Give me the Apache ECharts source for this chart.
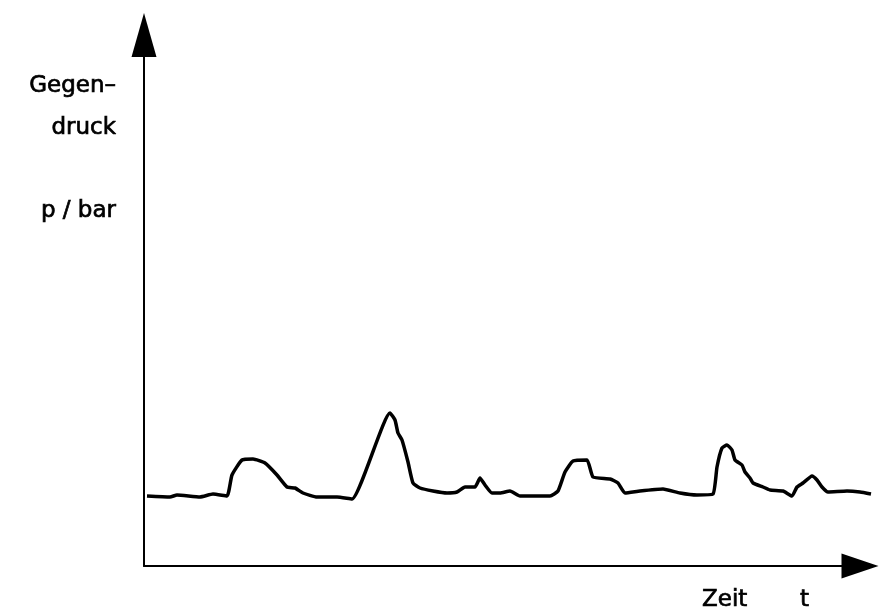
<!DOCTYPE html>
<html>
<head>
<meta charset="utf-8">
<script src="https://cdn.jsdelivr.net/npm/echarts@6/dist/echarts.min.js"></script>
<style>html,body{margin:0;padding:0;background:#fff;}#c{width:880px;height:615px;}</style>
</head>
<body>
<div id="c"></div>
<script>
// time (arbitrary units) and back pressure (arbitrary units)
const timeValues = [3,26,33,56,69,83,88,98,109,121,133,143,151,159,173,193,208,246,251,254,258,264,269,276,289,303,313,321,331,336,341,348,356,366,376,389,406,414,421,429,443,449,466,474,481,496,519,536,553,569,573,578,583,588,591,598,601,606,609,619,626,639,648,653,659,668,673,678,684,703,716,727];
const pressureValues = [70,69,71,69,72,70,91,106,107,103,91,79,78,73,69,69,67,153,146,133,126,104,83,78,75,73,74,79,79,88,81,73,73,75,70,70,70,75,94,105,106,89,87,83,73,75,77,73,71,72,99,118,121,116,106,101,94,88,83,79,76,75,70,79,83,90,86,79,74,75,74,72];
const yLabelLines = ['Gegen–', 'druck', 'p / bar'];
const xLabelParts = ['Zeit', 't'];

const chart = echarts.init(document.getElementById('c'), null, {renderer: 'canvas'});
const seriesData = timeValues.map((t, i) => [t, pressureValues[i]]);
const fam = '"DejaVu Sans", sans-serif';
function label(text, x, y, align, size) {
  return {type: 'text', style: {text: text, x: x, y: y, textAlign: align, textVerticalAlign: 'middle',
    fontSize: size, fontFamily: fam, fill: '#000', stroke: '#000', lineWidth: 0.7}};
}
chart.setOption({
  animation: false,
  backgroundColor: '#ffffff',
  grid: {left: 144, right: 8, top: 35, bottom: 49},
  xAxis: {
    type: 'value', min: 0, max: 728,
    axisLine: {show: true, onZero: false, symbol: ['none', 'triangle'], symbolSize: [25, 37], symbolOffset: [0, -12],
      lineStyle: {color: '#000', width: 2}},
    axisTick: {show: false}, axisLabel: {show: false}, splitLine: {show: false}
  },
  yAxis: {
    type: 'value', min: 0, max: 531,
    axisLine: {show: true, symbol: ['none', 'triangle'], symbolSize: [25, 44],
      lineStyle: {color: '#000', width: 2}},
    axisTick: {show: false}, axisLabel: {show: false}, splitLine: {show: false}
  },
  graphic: [
    label(yLabelLines[0], 116, 86, 'right', 23),
    label(yLabelLines[1], 116, 128, 'right', 23),
    label(yLabelLines[2], 116, 211, 'right', 23),
    label(xLabelParts[0], 702, 600, 'left', 23),
    label(xLabelParts[1], 800, 600, 'left', 23)
  ],
  series: [{
    type: 'line', data: seriesData, showSymbol: false, clip: false, smooth: 0.15,
    lineStyle: {color: '#000', width: 3.5}, itemStyle: {color: '#000'}
  }]
});
</script>
</body>
</html>
